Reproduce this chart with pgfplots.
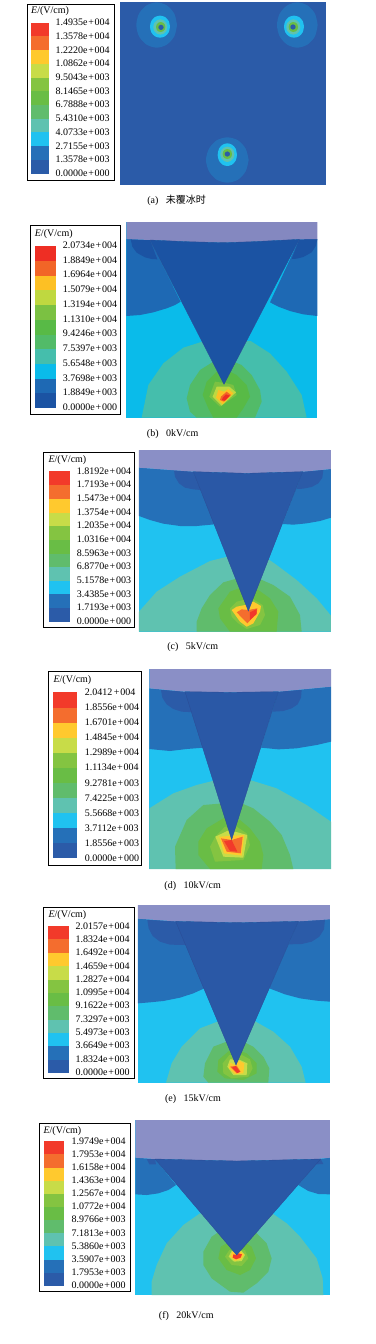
\documentclass[border=0pt]{standalone}
\usepackage{fontspec}
\usepackage{pgfplots}
\pgfplotsset{compat=1.18}
\setmainfont{Liberation Serif}
\newfontfamily\cjk{Noto Sans CJK SC}
\definecolor{dk}{HTML}{2B5BA8}\definecolor{bl}{HTML}{2570B8}\definecolor{cy}{HTML}{20C2F0}
\definecolor{te}{HTML}{5FC2B0}\definecolor{g1}{HTML}{60BC6C}\definecolor{g2}{HTML}{69BD45}
\definecolor{g3}{HTML}{84C441}\definecolor{yg}{HTML}{C8DC48}\definecolor{ye}{HTML}{FFC92E}
\definecolor{or}{HTML}{F46D2E}\definecolor{re}{HTML}{F23A2A}\definecolor{top}{HTML}{8A8FC6}
\definecolor{tri}{HTML}{2A58A6}\definecolor{edge}{HTML}{2B4C96}
\definecolor{bdk}{HTML}{1B53A3}\definecolor{bbl}{HTML}{1E69B4}\definecolor{bcy}{HTML}{0ABBEA}
\definecolor{bte}{HTML}{45BEAC}\definecolor{bg1}{HTML}{52BB68}\definecolor{bg2}{HTML}{58BA46}
\definecolor{bg3}{HTML}{7BC142}\definecolor{byg}{HTML}{BFD840}\definecolor{bye}{HTML}{FDC024}
\definecolor{bor}{HTML}{F26527}\definecolor{bre}{HTML}{EE2E24}\definecolor{btop}{HTML}{8488C0}
\newcommand{\p}[2]{\addplot[fill=#1,draw=none,forget plot] coordinates {#2};}
\newcommand{\s}[2]{\addplot[fill=#1,draw=none,smooth,forget plot] coordinates {#2};}
\newcommand{\sw}[3]{\addplot[fill=#1,draw=none,forget plot] coordinates {(\xa,#2)(\xb,#2)(\xb,#3)(\xa,#3)};}
\newcommand{\lab}[3]{\node[lbl] at (axis cs:\lx,#1) {#2e\kern.8pt+\kern.8pt#3};}
\newcommand{\frm}[4]{\addplot[fill=white,draw=black,line width=.8pt,forget plot] coordinates {(#1,#2)(#3,#2)(#3,#4)(#1,#4)(#1,#2)};}
\newcommand{\tr}[1]{\addplot[fill=#1,draw=edge,line width=.35pt,forget plot] coordinates}
\pgfplotsset{panel/.style={hide axis,scale only axis,clip=false,y dir=reverse,anchor=north west,xmin=0,ymin=0}}
\tikzset{lbl/.style={anchor=west,font=\fontsize{10}{10}\selectfont,inner sep=0pt},
 capt/.style={anchor=center,font=\fontsize{10}{10}\selectfont,inner sep=0pt}}
\begin{document}
\begin{tikzpicture}
\path[use as bounding box] (0,0) rectangle (375pt,-1344pt);
% ---------- (a)
\begin{axis}[panel,at={(20pt,0pt)},width=340pt,height=210pt,xmax=1020,ymax=630]
\frm{22}{14}{284}{541}
\def\xa{34}\def\xb{88}
\sw{re}{68}{108}\sw{or}{108}{150}\sw{ye}{150}{191}\sw{yg}{191}{233}\sw{g3}{233}{273}\sw{g2}{273}{315}\sw{g1}{315}{356}\sw{te}{356}{397}\sw{cy}{397}{438}\sw{bl}{438}{479}\sw{dk}{479}{521}
\def\lx{106}
\node[lbl] at (axis cs:33,33) {\textit{E}/(V/cm)};
\lab{68}{1.4935}{004}\lab{110}{1.3578}{004}\lab{152}{1.2220}{004}\lab{191}{1.0862}{004}\lab{233}{9.5043}{003}\lab{275}{8.1465}{003}\lab{314}{6.7888}{003}\lab{356}{5.4310}{003}\lab{398}{4.0733}{003}\lab{440}{2.7155}{003}\lab{479}{1.3578}{003}\lab{521}{0.0000}{000}
\p{dk}{(300,7)(918,7)(918,555)(300,555)}
\s{bl}{(471,75)(463,109)(440,134)(410,143)(380,134)(357,109)(349,75)(357,41)(380,16)(410,7)(440,16)(463,41)(471,75)}
\s{bl}{(893,75)(885,109)(862,134)(832,143)(802,134)(779,109)(771,75)(779,41)(802,16)(832,7)(862,16)(885,41)(893,75)}
\s{bl}{(686,480)(677,514)(654,539)(622,548)(590,539)(567,514)(558,480)(567,446)(590,421)(622,412)(654,421)(677,446)(686,480)}
\s{cy}{(450,80)(446,97)(435,109)(420,113)(405,109)(394,97)(390,80)(394,63)(405,51)(420,47)(435,51)(446,63)(450,80)}
\s{te}{(442,81)(439,93)(431,101)(421,104)(411,101)(403,93)(400,81)(403,69)(411,61)(421,58)(431,61)(439,69)(442,81)}
\s{g2}{(436,81)(434,89)(429,94)(422,96)(415,94)(410,89)(408,81)(410,73)(415,68)(422,66)(429,68)(434,73)(436,81)}
\s{dk}{(431,82)(429,87)(423,90)(417,87)(415,82)(417,77)(423,74)(429,77)(431,82)}
\s{cy}{(852,80)(848,97)(837,109)(822,113)(807,109)(796,97)(792,80)(796,63)(807,51)(822,47)(837,51)(848,63)(852,80)}
\s{te}{(841,81)(838,93)(830,101)(820,104)(810,101)(802,93)(799,81)(802,69)(810,61)(820,58)(830,61)(838,69)(841,81)}
\s{g2}{(834,81)(832,89)(827,94)(820,96)(813,94)(808,89)(806,81)(808,73)(813,68)(820,66)(827,68)(832,73)(834,81)}
\s{dk}{(827,81)(825,86)(819,89)(813,86)(811,81)(813,76)(819,73)(825,76)(827,81)}
\s{cy}{(651,465)(647,482)(636,494)(622,498)(608,494)(597,482)(593,465)(597,446)(608,434)(622,430)(636,434)(647,446)(651,465)}
\s{te}{(643,463)(640,475)(632,483)(622,486)(612,483)(604,475)(601,463)(604,451)(612,443)(622,440)(632,443)(640,451)(643,463)}
\s{g2}{(636,462)(634,470)(629,475)(622,477)(615,475)(610,470)(608,462)(610,454)(615,449)(622,447)(629,449)(634,454)(636,462)}
\s{dk}{(630,462)(628,467)(622,470)(616,467)(614,462)(616,457)(622,454)(628,457)(630,462)}
\node[capt] at (axis cs:470,600) {(a)\ \ \ {\cjk 未覆冰时}};
\end{axis}
% ---------- (b)
\begin{axis}[panel,at={(20pt,-215pt)},width=340pt,height=225pt,xmax=1020,ymax=675]
\frm{31}{31}{301}{598}
\def\xa{45}\def\xb{107}
\sw{bre}{93}{138}\sw{bor}{138}{182}\sw{bye}{182}{226}\sw{byg}{226}{270}\sw{bg3}{270}{315}\sw{bg2}{315}{359}\sw{bg1}{359}{403}\sw{bte}{403}{447}\sw{bcy}{447}{491}\sw{bbl}{491}{535}\sw{bdk}{535}{580}
\def\lx{128}
\node[lbl] at (axis cs:44,56) {\textit{E}/(V/cm)};
\lab{92}{2.0734}{004}\lab{136}{1.8849}{004}\lab{179}{1.6964}{004}\lab{224}{1.5079}{004}\lab{269}{1.3194}{004}\lab{314}{1.1310}{004}\lab{356}{9.4246}{003}\lab{401}{7.5397}{003}\lab{446}{5.6548}{003}\lab{491}{3.7698}{003}\lab{533}{1.8849}{003}\lab{578}{0.0000}{000}
\p{bcy}{(319,21)(892,21)(892,608)(319,608)}
\p{bbl}{(319,72)(390,75)(482,260)(465,270)(440,280)(400,292)(360,300)(319,303)}
\p{bbl}{(838,73)(892,72)(892,303)(850,298)(810,288)(775,275)(750,262)}
\p{bdk}{(332,73)(337,95)(350,113)(375,127)(395,132)(412,133)(390,75)}
\p{bdk}{(838,73)(892,72)(888,92)(875,112)(850,126)(830,131)(815,132)}
\p{bte}{(553,378)(490,398)(430,445)(385,510)(365,608)(860,608)(845,540)(800,470)(750,415)(692,378)}
\p{bg1}{(580,440)(540,465)(510,510)(500,550)(510,590)(530,608)(705,608)(725,560)(720,525)(695,480)(665,450)(640,440)}
\p{bg2}{(590,470)(560,500)(548,540)(565,580)(580,608)(650,608)(670,580)(690,545)(680,510)(650,480)(630,470)}
\p{bg3}{(585,500)(568,545)(600,575)(650,540)(640,510)(620,505)}
\p{byg}{(590,515)(578,545)(605,572)(648,532)(628,515)}
\p{bye}{(595,525)(588,548)(608,568)(640,535)(625,522)(612,530)}
\p{bor}{(603,545)(600,555)(612,560)(633,540)(620,530)}
\p{bre}{(608,548)(606,555)(615,557)(630,542)(618,538)}
\p{btop}{(319,21)(892,21)(892,72)(838,73)(700,80)(610,83)(500,80)(390,75)(319,72)}
\tr{bdk}{(390,75)(500,80)(610,83)(700,80)(838,73)(612,508)(390,75)};
\node[capt] at (axis cs:458,656) {(b)\ \ \ 0kV/cm};
\end{axis}
% ---------- (c)
\begin{axis}[panel,at={(30pt,-445pt)},width=320pt,height=215pt,xmax=960,ymax=645]
\frm{40}{22}{314}{548}
\def\xa{56}\def\xb{120}
\sw{re}{78}{120}\sw{or}{120}{161}\sw{ye}{161}{203}\sw{yg}{203}{243}\sw{g3}{243}{285}\sw{g2}{285}{326}\sw{g1}{326}{366}\sw{te}{366}{407}\sw{cy}{407}{448}\sw{bl}{448}{489}\sw{dk}{489}{530}
\def\lx{140}
\node[lbl] at (axis cs:55,45) {\textit{E}/(V/cm)};
\lab{80}{1.8192}{004}\lab{118}{1.7193}{004}\lab{161}{1.5473}{004}\lab{202}{1.3754}{004}\lab{242}{1.2035}{004}\lab{284}{1.0316}{004}\lab{326}{8.5963}{003}\lab{365}{6.8770}{003}\lab{407}{5.1578}{003}\lab{449}{3.4385}{003}\lab{488}{1.7193}{003}\lab{530}{0.0000}{000}
\p{cy}{(327,15)(903,15)(903,560)(327,560)}
\p{bl}{(327,68)(490,80)(554,238)(500,243)(450,243)(400,236)(360,225)(327,213)}
\p{bl}{(818,80)(903,72)(903,218)(870,228)(830,235)(790,239)(758,237)}
\p{dk}{(432,76)(435,95)(447,115)(465,128)(490,133)(512,135)(490,80)}
\p{dk}{(818,80)(880,75)(877,98)(865,115)(845,126)(820,131)(800,132)}
\p{te}{(605,332)(540,348)(450,395)(380,440)(327,500)(327,560)(903,560)(903,512)(860,460)(800,405)(740,360)(700,332)}
\p{g1}{(500,530)(500,560)(815,560)(810,510)(780,455)(730,420)(680,398)(630,398)(580,412)(540,450)(515,490)}
\p{g2}{(565,490)(570,520)(600,560)(740,560)(745,500)(720,460)(685,435)(640,425)(600,440)}
\p{g3}{(600,490)(605,515)(625,535)(650,552)(690,540)(705,510)(698,480)(665,460)(640,465)(620,470)}
\p{ye}{(605,495)(630,530)(650,545)(670,535)(690,500)(693,483)(670,470)(645,480)(620,485)}
\p{or}{(620,502)(652,535)(680,505)(682,490)(655,495)(635,493)}
\p{re}{(660,502)(660,525)(680,507)(680,492)}
\p{top}{(327,15)(903,15)(903,72)(820,80)(650,85)(490,80)(327,68)}
\tr{tri}{(490,80)(650,85)(818,80)(655,498)(490,80)};
\node[capt] at (axis cs:488,605) {(c)\ \ \ 5kV/cm};
\end{axis}
% ---------- (d)
\begin{axis}[panel,at={(30pt,-665pt)},width=320pt,height=230pt,xmax=960,ymax=690]
\frm{55}{20}{335}{601}
\def\xa{70}\def\xb{142}
\sw{re}{82}{128}\sw{or}{128}{173}\sw{ye}{173}{219}\sw{yg}{219}{263}\sw{g3}{263}{308}\sw{g2}{308}{354}\sw{g1}{354}{399}\sw{te}{399}{444}\sw{cy}{444}{490}\sw{bl}{490}{535}\sw{dk}{535}{580}
\def\lx{164}
\node[lbl] at (axis cs:70,45) {\textit{E}/(V/cm)};
\node[lbl] at (axis cs:\lx,82) {2.0412\kern1.5pt+\kern.8pt004};
\lab{128}{1.8556}{004}\lab{173}{1.6701}{004}\lab{218}{1.4845}{004}\lab{263}{1.2989}{004}\lab{307}{1.1134}{004}\lab{355}{9.2781}{003}\lab{400}{7.4225}{003}\lab{445}{5.5668}{003}\lab{490}{3.7112}{003}\lab{536}{1.8556}{003}\lab{581}{0.0000}{000}
\p{cy}{(358,12)(903,12)(903,612)(358,612)}
\p{bl}{(358,70)(465,80)(520,248)(470,252)(420,258)(358,252)}
\p{bl}{(745,80)(903,65)(903,230)(860,240)(800,250)(745,253)(693,248)}
\p{dk}{(393,75)(397,98)(410,118)(430,132)(455,140)(495,142)(465,80)}
\p{dk}{(745,80)(815,75)(813,98)(803,118)(785,130)(760,138)(728,140)}
\p{te}{(560,345)(500,360)(430,385)(358,430)(358,612)(903,612)(903,470)(830,420)(740,370)(660,345)}
\p{g1}{(580,415)(520,420)(470,465)(435,545)(437,612)(790,612)(780,570)(755,510)(720,470)(670,430)(635,415)}
\p{g2}{(580,460)(530,490)(505,530)(505,570)(540,612)(695,612)(700,570)(690,530)(660,490)(630,465)}
\p{g3}{(585,485)(556,515)(540,545)(555,590)(640,585)(660,540)(650,505)(620,485)}
\p{yg}{(598,495)(556,515)(580,575)(640,578)(652,510)(615,500)}
\p{ye}{(568,515)(582,565)(635,572)(643,510)}
\p{or}{(573,520)(590,560)(632,565)(638,515)(605,525)}
\p{re}{(582,528)(600,558)(622,560)(605,525)}
\p{top}{(358,12)(903,12)(903,65)(745,80)(600,82)(465,80)(358,70)}
\tr{tri}{(465,80)(600,82)(745,80)(605,524)(465,80)};
\node[capt] at (axis cs:488,662) {(d)\ \ \ 10kV/cm};
\end{axis}
% ---------- (e)
\begin{axis}[panel,at={(30pt,-900pt)},width=320pt,height=210pt,xmax=960,ymax=630]
\frm{40}{22}{314}{536}
\def\xa{55}\def\xb{118}
\sw{re}{78}{118}\sw{or}{118}{159}\sw{ye}{159}{199}\sw{yg}{199}{239}\sw{g3}{239}{279}\sw{g2}{279}{319}\sw{g1}{319}{359}\sw{te}{359}{399}\sw{cy}{399}{439}\sw{bl}{439}{479}\sw{dk}{479}{520}
\def\lx{136}
\node[lbl] at (axis cs:55,45) {\textit{E}/(V/cm)};
\lab{78}{2.0157}{004}\lab{118}{1.8324}{004}\lab{158}{1.6492}{004}\lab{198}{1.4659}{004}\lab{238}{1.2827}{004}\lab{278}{1.0995}{004}\lab{317}{9.1622}{003}\lab{358}{7.3297}{003}\lab{398}{5.4973}{003}\lab{437}{3.6649}{003}\lab{478}{1.8324}{003}\lab{518}{0.0000}{000}
\p{cy}{(324,15)(900,15)(900,548)(324,548)}
\p{bl}{(324,56)(437,64)(523,265)(490,280)(450,293)(400,303)(360,307)(324,310)}
\p{bl}{(805,64)(900,57)(900,305)(860,302)(810,295)(765,283)(718,265)}
\p{dk}{(352,60)(356,85)(368,108)(390,125)(420,134)(480,135)(437,64)}
\p{dk}{(805,64)(885,58)(882,88)(868,110)(845,125)(815,132)(777,133)}
\p{te}{(570,362)(510,385)(455,440)(425,490)(408,548)(827,548)(815,500)(780,440)(730,395)(672,362)}
\p{g1}{(590,425)(550,440)(525,490)(520,530)(535,548)(715,548)(718,505)(700,470)(670,440)(640,425)}
\p{g2}{(600,450)(565,480)(562,515)(585,535)(640,540)(680,520)(680,490)(650,460)(630,452)}
\p{g3}{(598,465)(578,490)(580,520)(605,535)(655,530)(668,505)(660,478)(630,462)}
\p{yg}{(600,478)(592,500)(610,525)(650,525)(652,490)(630,480)}
\p{ye}{(600,488)(597,505)(615,522)(640,520)(643,490)(628,482)(615,495)}
\p{or}{(600,500)(620,520)(632,515)(620,497)}
\p{re}{(606,503)(622,519)(630,515)(617,498)}
\p{top}{(324,15)(900,15)(900,58)(805,64)(620,68)(437,64)(324,56)}
\tr{tri}{(437,64)(620,68)(805,64)(618,495)(437,64)};
\node[capt] at (axis cs:489,596) {(e)\ \ \ 15kV/cm};
\end{axis}
% ---------- (f)
\begin{axis}[panel,at={(30pt,-1115pt)},width=320pt,height=229pt,xmax=960,ymax=687]
\frm{28}{25}{302}{530}
\def\xa{42}\def\xb{103}
\sw{re}{78}{118}\sw{or}{118}{158}\sw{ye}{158}{197}\sw{yg}{197}{236}\sw{g3}{236}{276}\sw{g2}{276}{315}\sw{g1}{315}{355}\sw{te}{355}{394}\sw{cy}{394}{434}\sw{bl}{434}{473}\sw{dk}{473}{513}
\def\lx{124}
\node[lbl] at (axis cs:40,47) {\textit{E}/(V/cm)};
\lab{78}{1.9749}{004}\lab{118}{1.7953}{004}\lab{158}{1.6158}{004}\lab{197}{1.4363}{004}\lab{236}{1.2567}{004}\lab{275}{1.0772}{004}\lab{314}{8.9766}{003}\lab{356}{7.1813}{003}\lab{394}{5.3860}{003}\lab{434}{3.5907}{003}\lab{472}{1.7953}{003}\lab{512}{0.0000}{000}
\p{cy}{(316,15)(900,15)(900,540)(316,540)}
\p{bl}{(316,128)(375,132)(438,210)(415,225)(385,235)(350,240)(316,238)}
\p{bl}{(870,132)(900,128)(900,238)(865,237)(835,228)(805,210)}
\p{dk}{(350,132)(358,148)(378,148)(375,132)}
\p{dk}{(872,132)(880,147)(860,148)(855,132)}
\p{te}{(510,295)(460,330)(410,385)(380,450)(365,500)(365,540)(880,540)(878,490)(860,430)(810,365)(770,325)(727,295)}
\p{g1}{(575,345)(545,365)(520,410)(520,450)(545,490)(600,530)(640,533)(680,505)(715,470)(725,430)(710,385)(680,355)(665,345)}
\p{g2}{(600,380)(572,395)(565,430)(590,465)(630,480)(660,465)(678,430)(665,395)(640,380)}
\p{g3}{(598,405)(585,425)(605,450)(635,453)(655,430)(645,405)}
\p{yg}{(605,408)(596,425)(612,440)(635,438)(645,420)(635,408)}
\p{ye}{(607,410)(600,425)(615,437)(633,433)(642,418)(632,410)}
\p{re}{(610,418)(608,428)(618,433)(632,428)(636,418)(625,415)(620,420)}
\p{top}{(316,15)(900,15)(900,128)(860,132)(620,138)(375,132)(316,128)}
\tr{tri}{(375,132)(620,138)(872,132)(620,420)(375,132)};
\node[capt] at (axis cs:469,602) {(f)\ \ \ 20kV/cm};
\end{axis}
\end{tikzpicture}
\end{document}
